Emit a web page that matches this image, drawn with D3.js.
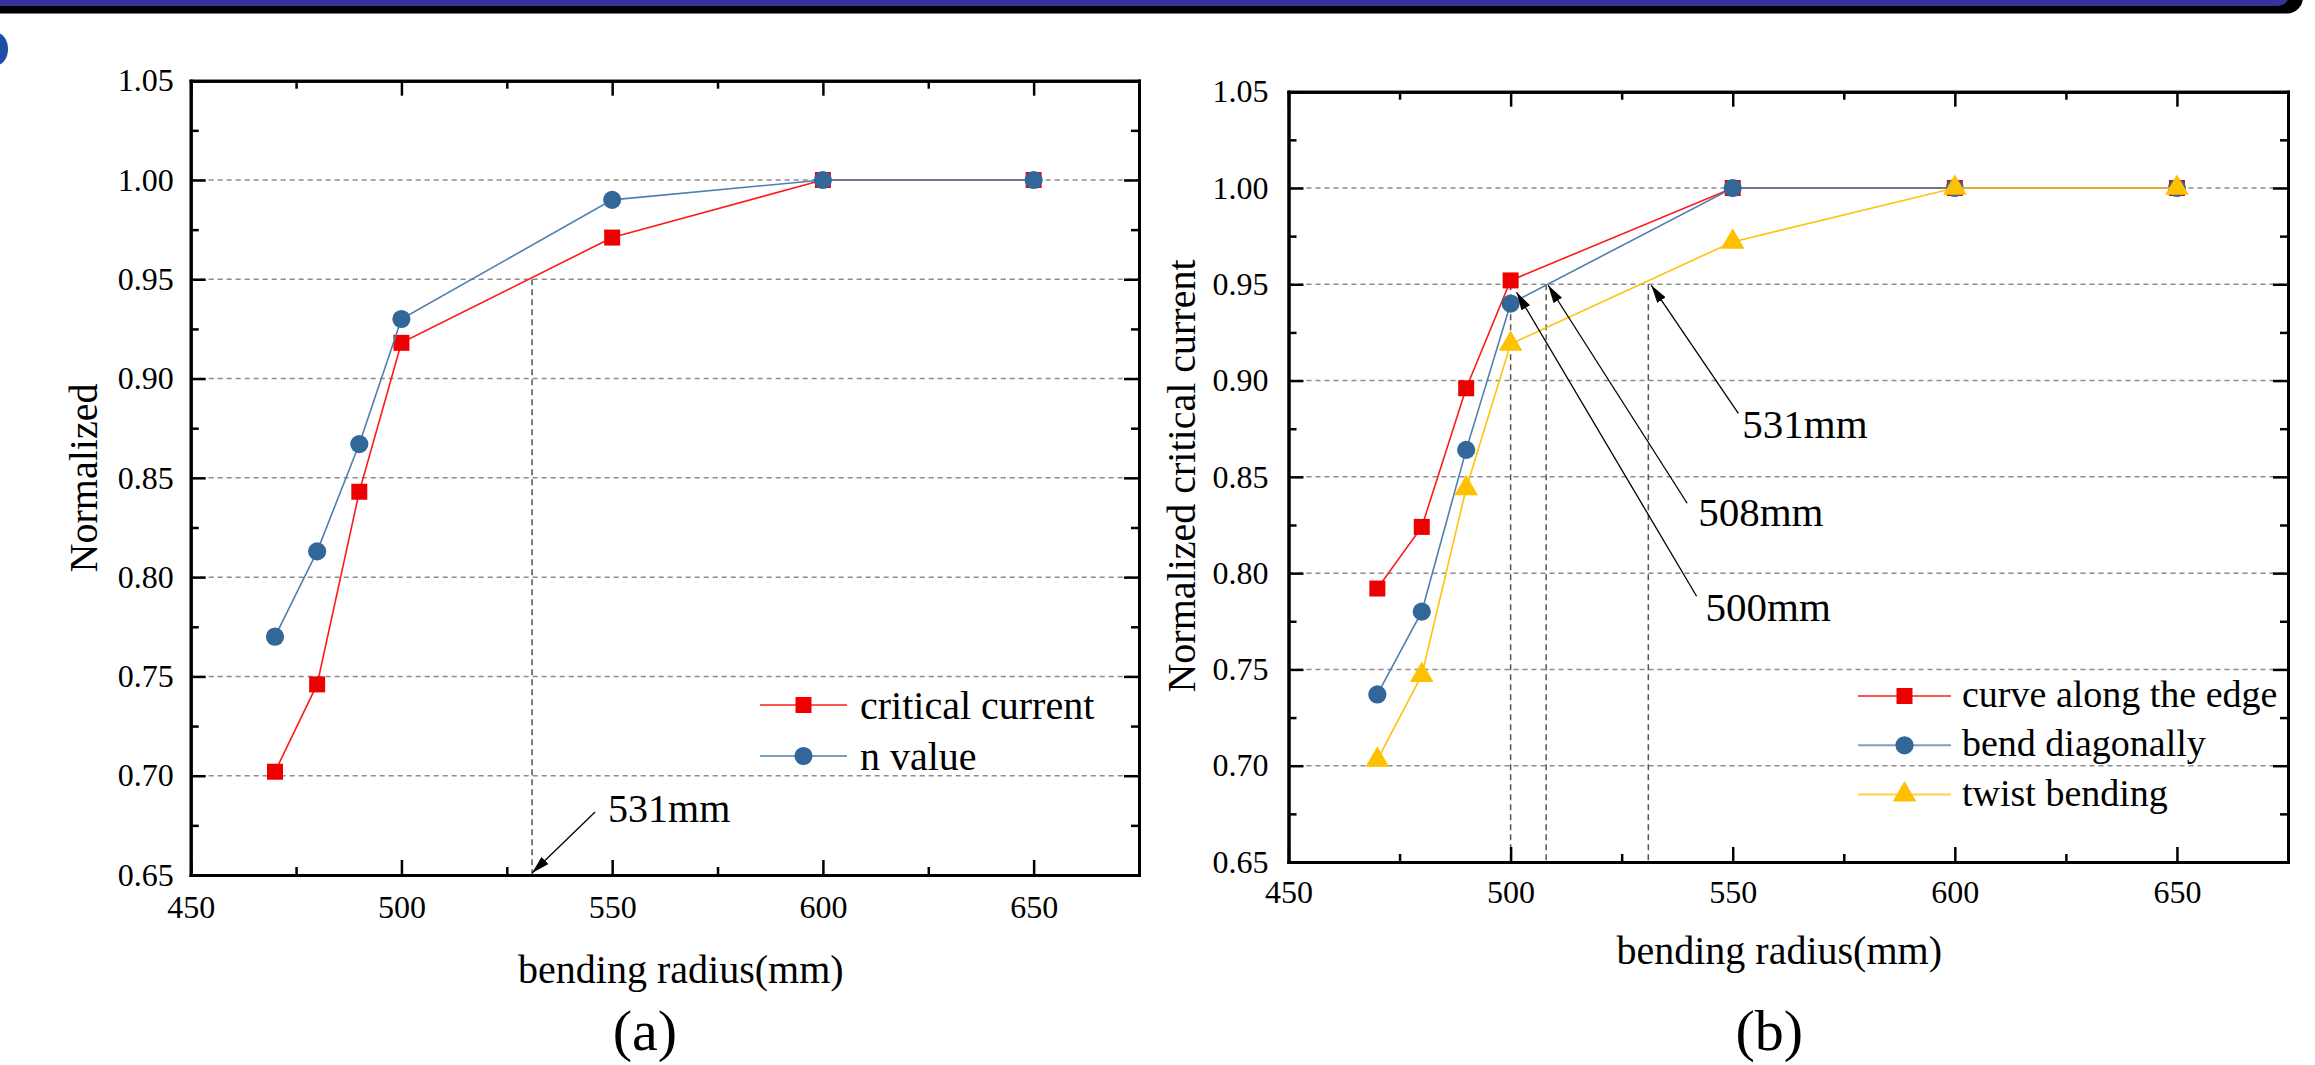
<!DOCTYPE html>
<meta charset="utf-8">
<script src="https://d3js.org/d3.v7.min.js"></script>
<style>
  body { margin: 0; background: #fff; }
  text { font-family: "Liberation Serif", "Times New Roman", serif; fill: #000; }
</style>
<div id="fig"></div>
<script>
// ---- data ----
var radius = [470, 480, 490, 500, 550, 600, 650];

// panel (a)
var critCurrent = [0.702, 0.746, 0.843, 0.918, 0.971, 1.00, 1.00];
var nValue      = [0.770, 0.813, 0.867, 0.930, 0.990, 1.00, 1.00];

// panel (b)
var alongEdge   = [0.792, 0.824, 0.896, 0.952, 1.00, 1.00, 1.00];
var diagonal    = [0.737, 0.780, 0.864, 0.940, 1.00, 1.00, 1.00];
var twist       = [0.703, 0.747, 0.844, 0.919, 0.972, 1.00, 1.00];

var xTicks = [450, 500, 550, 600, 650];
var xMinor = [475, 525, 575, 625];
var yTicks = [0.65, 0.70, 0.75, 0.80, 0.85, 0.90, 0.95, 1.00, 1.05];
var yMinor = [0.675, 0.725, 0.775, 0.825, 0.875, 0.925, 0.975, 1.025];
var gridY  = [0.70, 0.75, 0.80, 0.85, 0.90, 0.95, 1.00];

var marksA = [531];
var marksB = [500, 508, 531];
var markLevel = 0.95;

var W = 2315, H = 1065;
var svg = d3.select("#fig").append("svg").attr("width", W).attr("height", H);

// arrow head
svg.append("defs").append("marker")
    .attr("id", "arr")
    .attr("markerUnits", "userSpaceOnUse")
    .attr("markerWidth", 18).attr("markerHeight", 10)
    .attr("refX", 18).attr("refY", 5)
    .attr("orient", "auto")
  .append("path").attr("d", "M0,0L18,5L0,10Z").attr("fill", "#000");

// top banner and the little logo edge
svg.append("rect").attr("x", -20).attr("y", -20).attr("width", 2323).attr("height", 33.5).attr("rx", 16).attr("fill", "#000");
svg.append("rect").attr("x", -20).attr("y", -20).attr("width", 2310).attr("height", 26).attr("rx", 13).attr("fill", "#333399");
svg.append("ellipse").attr("cx", -3).attr("cy", 49).attr("rx", 11).attr("ry", 16).attr("fill", "#1d4fa8");

var red = "#ee0000", redLine = "#ff1a1a";
var blue = "#336699", blueLine = "#4f7fb0";
var yellow = "#ffc000", yellowLine = "#ffc20e";

function drawPanel(p) {
  var g = svg.append("g");
  var x = d3.scaleLinear().domain([450, 675]).range([p.left, p.right]);
  var y = d3.scaleLinear().domain([0.65, 1.05]).range([p.bottom, p.top]);

  // dashed grid
  g.selectAll(".grid").data(gridY).enter().append("line")
      .attr("x1", p.left).attr("x2", p.right)
      .attr("y1", function(d) { return y(d); }).attr("y2", function(d) { return y(d); })
      .attr("stroke", "#8c8c8c").attr("stroke-width", 1.5).attr("stroke-dasharray", "5,4");

  // vertical guide lines at the marked radii
  g.selectAll(".vmark").data(p.marks).enter().append("line")
      .attr("x1", function(d) { return x(d); }).attr("x2", function(d) { return x(d); })
      .attr("y1", y(markLevel)).attr("y2", y(0.65))
      .attr("stroke", "#555").attr("stroke-width", 1.5).attr("stroke-dasharray", "6,4");

  // series
  var line = d3.line().x(function(d, i) { return x(radius[i]); }).y(function(d) { return y(d); });
  p.series.forEach(function(s) {
    g.append("path").datum(s.values).attr("d", line)
        .attr("fill", "none").attr("stroke", s.line).attr("stroke-width", 1.6);
    g.selectAll(null).data(s.values).enter().append("path")
        .attr("d", d3.symbol().type(s.symbol).size(s.size))
        .attr("transform", function(d, i) { return "translate(" + x(radius[i]) + "," + y(d) + ")"; })
        .attr("fill", s.color);
  });

  // axes: ticks point inward on all four sides
  function styleAxis(a) {
    a.select(".domain").attr("stroke-width", 3).attr("stroke-linecap", "square");
    a.selectAll(".tick line").attr("stroke-width", 2.5);
    a.selectAll("text").style("font-size", "32px").style("font-family", "Liberation Serif, Times New Roman, serif");
  }
  var fmt = d3.format(".2f");
  styleAxis(g.append("g").attr("transform", "translate(0," + p.bottom + ")")
      .call(d3.axisBottom(x).tickValues(xTicks).tickSizeInner(-15).tickSizeOuter(0).tickPadding(p.xPad)));
  styleAxis(g.append("g").attr("transform", "translate(0," + p.bottom + ")")
      .call(d3.axisBottom(x).tickValues(xMinor).tickSizeInner(-8).tickSizeOuter(0).tickFormat("")));
  styleAxis(g.append("g").attr("transform", "translate(0," + p.top + ")")
      .call(d3.axisTop(x).tickValues(xTicks).tickSizeInner(-15).tickSizeOuter(0).tickFormat("")));
  styleAxis(g.append("g").attr("transform", "translate(0," + p.top + ")")
      .call(d3.axisTop(x).tickValues(xMinor).tickSizeInner(-8).tickSizeOuter(0).tickFormat("")));
  styleAxis(g.append("g").attr("transform", "translate(" + p.left + ",0)")
      .call(d3.axisLeft(y).tickValues(yTicks).tickSizeInner(-15).tickSizeOuter(0).tickPadding(p.yPad).tickFormat(fmt)));
  styleAxis(g.append("g").attr("transform", "translate(" + p.left + ",0)")
      .call(d3.axisLeft(y).tickValues(yMinor).tickSizeInner(-8).tickSizeOuter(0).tickFormat("")));
  styleAxis(g.append("g").attr("transform", "translate(" + p.right + ",0)")
      .call(d3.axisRight(y).tickValues(yTicks).tickSizeInner(-15).tickSizeOuter(0).tickFormat("")));
  styleAxis(g.append("g").attr("transform", "translate(" + p.right + ",0)")
      .call(d3.axisRight(y).tickValues(yMinor).tickSizeInner(-8).tickSizeOuter(0).tickFormat("")));

  // axis titles
  var cx = (p.left + p.right) / 2;
  g.append("text").attr("x", cx + p.xTitleShift).attr("y", p.xTitleY)
      .attr("text-anchor", "middle").style("font-size", "40px").text("bending radius(mm)");
  g.append("text").attr("transform", "translate(" + p.yTitleX + "," + p.yTitleY + ") rotate(-90)")
      .attr("text-anchor", "middle").style("font-size", "40px").text(p.yTitle);
  g.append("text").attr("x", cx + p.tagShift).attr("y", 1050)
      .attr("text-anchor", "middle").style("font-size", "58px").text(p.tag);

  // arrow annotations
  p.notes.forEach(function(n) {
    var hx = x(n.value) + n.head[0], hy = y(n.level) + n.head[1];
    g.append("line").attr("x1", hx + n.tail[0]).attr("y1", hy + n.tail[1])
        .attr("x2", hx).attr("y2", hy)
        .attr("stroke", "#000").attr("stroke-width", 1.3).attr("marker-end", "url(#arr)");
    g.append("text").attr("x", hx + n.text[0]).attr("y", hy + n.text[1])
        .style("font-size", n.size + "px").text(n.value + "mm");
  });

  // legend
  var lg = g.append("g");
  p.series.forEach(function(s, i) {
    var ly = p.legend.y + i * p.legend.step;
    lg.append("line").attr("x1", p.legend.x).attr("x2", p.legend.x + p.legend.len)
        .attr("y1", ly).attr("y2", ly).attr("stroke", s.line).attr("stroke-width", 2).attr("opacity", 0.75);
    lg.append("path").attr("d", d3.symbol().type(s.symbol).size(s.size))
        .attr("transform", "translate(" + (p.legend.x + p.legend.len / 2) + "," + ly + ")")
        .attr("fill", s.color);
    lg.append("text").attr("x", p.legend.x + p.legend.len + p.legend.gap).attr("y", ly + p.legend.base)
        .style("font-size", p.legend.font + "px").text(s.name);
  });
}

drawPanel({
  left: 190.7, right: 1139, top: 80.7, bottom: 875,
  xPad: 20, yPad: 17,
  xTitleShift: 16, xTitleY: 983,
  yTitle: "Normalized", yTitleX: 97, yTitleY: 478,
  tag: "(a)", tagShift: -20,
  marks: marksA,
  notes: [{value: 531, level: 0.65, head: [0, -2], tail: [63, -61], text: [76, -51], size: 40}],
  series: [
    {name: "critical current", values: critCurrent, color: red, line: redLine, symbol: d3.symbolSquare, size: 256},
    {name: "n value", values: nValue, color: blue, line: blueLine, symbol: d3.symbolCircle, size: 260}
  ],
  legend: {x: 760, y: 705, step: 51, len: 87, gap: 13, base: 14, font: 40}
});

drawPanel({
  left: 1288.5, right: 2288, top: 91.7, bottom: 862,
  xPad: 18, yPad: 20,
  xTitleShift: -9, xTitleY: 964,
  yTitle: "Normalized critical current", yTitleX: 1195, yTitleY: 476,
  tag: "(b)", tagShift: -19,
  marks: marksB,
  notes: [
    {value: 500, level: markLevel, head: [6, 8], tail: [180, 304], text: [189, 329], size: 41},
    {value: 508, level: markLevel, head: [2, 1], tail: [139, 218], text: [150, 241], size: 41},
    {value: 531, level: markLevel, head: [3, 1], tail: [87, 128], text: [91, 153], size: 41}
  ],
  series: [
    {name: "curve along the edge", values: alongEdge, color: red, line: redLine, symbol: d3.symbolSquare, size: 256},
    {name: "bend diagonally", values: diagonal, color: blue, line: blueLine, symbol: d3.symbolCircle, size: 260},
    {name: "twist bending", values: twist, color: yellow, line: yellowLine, symbol: d3.symbolTriangle, size: 240}
  ],
  legend: {x: 1858, y: 696, step: 49.3, len: 93, gap: 11, base: 11, font: 38}
});
</script>
